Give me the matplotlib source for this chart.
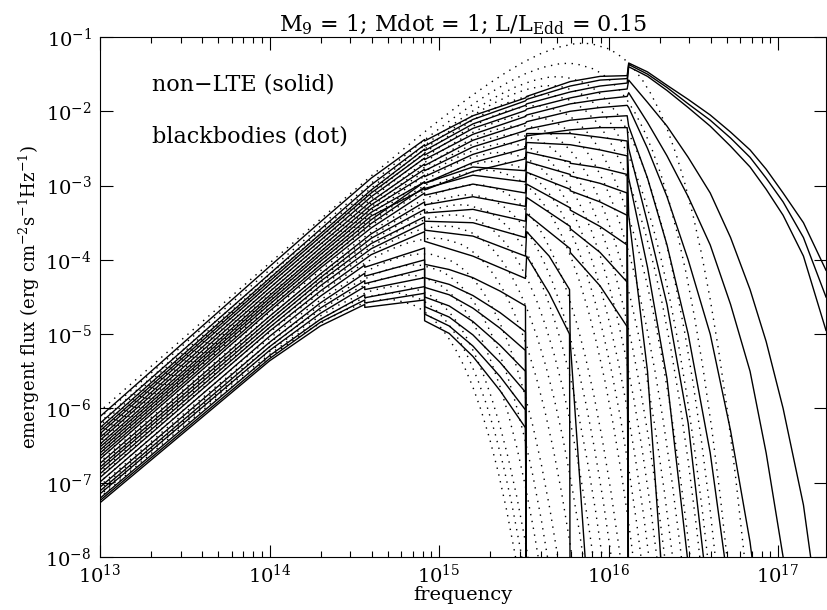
import numpy as np
import matplotlib
matplotlib.use("Agg")
import matplotlib.pyplot as plt
from matplotlib.ticker import FixedLocator, NullLocator, LogFormatterMathtext

# blackbody shape, relative to its peak (dex)
bb_shape_dlognu = [-2.95, -2.45, -1.95, -1.45, -1.25, -1.05, -0.95, -0.85, -0.75, -0.65,
                   -0.55, -0.45, -0.35, -0.25, -0.15, -0.05, 0.0, 0.05, 0.15, 0.20,
                   0.25, 0.30, 0.35, 0.40, 0.45, 0.50, 0.55, 0.60, 0.65, 0.70,
                   0.75, 0.80, 0.85, 0.90, 0.95, 1.00, 1.05]
bb_shape_dlogflux = [-5.153, -4.155, -3.160, -2.175, -1.788, -1.408, -1.223, -1.042, -0.866, -0.697,
                     -0.537, -0.388, -0.254, -0.141, -0.056, -0.007, 0.0, -0.007, -0.074, -0.138,
                     -0.227, -0.344, -0.492, -0.677, -0.902, -1.173, -1.496, -1.876, -2.320, -2.837,
                     -3.436, -4.126, -4.918, -5.825, -6.862, -8.043, -9.387]

# peak of each annulus blackbody (dotted curves), log10 nu and log10 flux
bb_peak_lognu = [14.699, 14.729, 14.759, 14.809, 14.854, 14.904, 14.974, 15.029, 15.079, 15.124,
                 15.169, 15.214, 15.279, 15.319, 15.359, 15.399, 15.439, 15.479, 15.524, 15.569,
                 15.619, 15.659, 15.699, 15.759, 15.849]
bb_peak_logflux = [-4.534, -4.444, -4.354, -4.204, -4.069, -3.919, -3.709, -3.544, -3.394, -3.259,
                   -3.124, -2.989, -2.794, -2.674, -2.554, -2.434, -2.314, -2.194, -2.059, -1.924,
                   -1.774, -1.654, -1.534, -1.354, -1.084]

# non-LTE spectra (solid), log10 values
# cool annuli: cut off at the Lyman edge
cool_lognu = [13.0, 14.0, 14.3, 14.562, 14.562, 14.915, 14.915, 15.06, 15.2, 15.36, 15.51, 15.517]
cool_logflux = [
    [-7.27, -5.36, -4.89, -4.60, -4.64, -4.54, -4.82, -4.99, -5.30, -5.76, -6.26, -9.5],
    [-7.24, -5.33, -4.84, -4.54, -4.58, -4.45, -4.73, -4.89, -5.16, -5.57, -6.02, -9.5],
    [-7.21, -5.29, -4.80, -4.47, -4.51, -4.36, -4.63, -4.77, -5.01, -5.38, -5.78, -9.5],
    [-7.15, -5.22, -4.72, -4.36, -4.40, -4.24, -4.50, -4.62, -4.83, -5.15, -5.50, -9.5],
    [-7.11, -5.17, -4.65, -4.28, -4.32, -4.12, -4.37, -4.47, -4.65, -4.92, -5.22, -9.5],
    [-7.06, -5.11, -4.58, -4.18, -4.22, -4.00, -4.24, -4.33, -4.48, -4.71, -4.97, -9.5],
    [-6.99, -5.03, -4.49, -4.07, -4.10, -3.84, -4.06, -4.13, -4.24, -4.42, -4.62, -9.5],
]

# warm annuli: cut off at the He I edge
warm_lognu = [13.0, 14.0, 14.3, 14.6, 14.915, 14.915, 15.2, 15.51, 15.517, 15.65, 15.77, 15.774, 15.88]
warm_logflux = [
    [-6.93, -4.96, -4.42, -3.93, -3.62, -3.75, -3.95, -4.25, -3.95, -4.45, -5.00, -9.5, -9.5],
    [-6.88, -4.91, -4.35, -3.85, -3.50, -3.60, -3.68, -3.95, -3.62, -3.95, -4.40, -5.10, -8.6],
]

# hot annuli: cut off at the He II edge
hot_lognu = [13.0, 14.0, 14.3, 14.6, 14.915, 14.915, 15.2, 15.51, 15.517, 15.774, 15.774, 15.95, 16.11, 16.119]
hot_logflux = [
    [-6.83, -4.86, -4.29, -3.78, -3.42, -3.48, -3.50, -3.70, -3.38, -3.85, -3.90, -4.35, -4.90, -9.5],
    [-6.79, -4.81, -4.24, -3.71, -3.32, -3.37, -3.32, -3.48, -3.16, -3.55, -3.58, -3.90, -4.30, -9.5],
    [-6.74, -4.76, -4.19, -3.65, -3.22, -3.26, -3.15, -3.28, -2.98, -3.30, -3.33, -3.55, -3.80, -9.5],
    [-6.68, -4.69, -4.11, -3.57, -3.10, -3.13, -2.98, -3.10, -2.82, -3.05, -3.07, -3.22, -3.40, -9.5],
    [-6.64, -4.65, -4.07, -3.51, -3.02, -3.04, -2.86, -2.95, -2.68, -2.85, -2.87, -2.97, -3.10, -9.5],
    [-6.60, -4.60, -4.02, -3.46, -2.95, -2.97, -2.75, -2.80, -2.55, -2.68, -2.70, -2.76, -2.85, -9.5],
]

# hottest annuli: emission past the He II edge
hottest_lognu = [13.0, 14.0, 14.3, 14.6, 14.915, 14.915, 15.2, 15.51, 15.517, 15.774, 15.95,
                 16.11, 16.119, 16.23, 16.345, 16.47, 16.6, 16.72, 16.835, 16.93, 17.03, 17.15, 17.283]
hottest_logflux = [
    [-6.56, -4.56, -3.98, -3.41, -3.04, -3.06, -2.81, -2.64, -2.42, -2.45, -2.52, -2.60, -3.40,
     -5.5, -9.2, -9.5, -9.5, -9.5, -9.5, -9.5, -9.5, -9.5, -9.5],
    [-6.52, -4.52, -3.93, -3.36, -2.95, -2.97, -2.69, -2.50, -2.30, -2.30, -2.35, -2.40, -2.90,
     -4.1, -5.6, -8.1, -9.5, -9.5, -9.5, -9.5, -9.5, -9.5, -9.5],
    [-6.48, -4.48, -3.89, -3.31, -2.86, -2.88, -2.58, -2.37, -2.33, -2.25, -2.22, -2.22, -2.50,
     -3.5, -4.6, -6.2, -8.8, -9.5, -9.5, -9.5, -9.5, -9.5, -9.5],
    [-6.43, -4.43, -3.84, -3.26, -2.78, -2.80, -2.48, -2.26, -2.24, -2.12, -2.08, -2.06, -2.20,
     -2.9, -3.8, -5.0, -6.6, -8.6, -9.5, -9.5, -9.5, -9.5, -9.5],
    [-6.39, -4.38, -3.79, -3.21, -2.71, -2.73, -2.39, -2.16, -2.14, -2.00, -1.95, -1.92, -1.95,
     -2.5, -3.15, -4.0, -5.0, -6.3, -7.8, -9.5, -9.5, -9.5, -9.5],
    [-6.34, -4.33, -3.74, -3.15, -2.63, -2.65, -2.31, -2.07, -2.05, -1.90, -1.84, -1.80, -1.75,
     -2.15, -2.6, -3.15, -3.8, -4.6, -5.5, -6.6, -8.0, -9.5, -9.5],
    [-6.30, -4.29, -3.69, -3.10, -2.57, -2.59, -2.23, -1.99, -1.97, -1.82, -1.74, -1.70, -1.58,
     -1.88, -2.2, -2.62, -3.1, -3.7, -4.4, -5.1, -6.0, -7.3, -9.5],
    [-6.26, -4.25, -3.65, -3.06, -2.51, -2.53, -2.17, -1.92, -1.90, -1.74, -1.66, -1.62, -1.40,
     -1.53, -1.72, -1.95, -2.20, -2.47, -2.75, -3.05, -3.40, -3.95, -4.95],
    [-6.20, -4.19, -3.59, -2.99, -2.45, -2.47, -2.11, -1.86, -1.84, -1.66, -1.58, -1.56, -1.37,
     -1.50, -1.68, -1.90, -2.12, -2.36, -2.62, -2.90, -3.22, -3.70, -4.50],
    [-6.11, -4.09, -3.49, -2.90, -2.38, -2.40, -2.06, -1.82, -1.80, -1.60, -1.53, -1.52, -1.35,
     -1.47, -1.65, -1.84, -2.05, -2.28, -2.52, -2.78, -3.10, -3.50, -4.14],
]

x_decades = [1e13, 1e14, 1e15, 1e16, 1e17]
y_decades = [1e-8, 1e-7, 1e-6, 1e-5, 1e-4, 1e-3, 1e-2, 1e-1]

plt.rcParams['font.family'] = ['DejaVu Serif']
plt.rcParams['mathtext.fontset'] = 'dejavuserif'

fig = plt.figure(figsize=(8.27, 6.10), dpi=100)
ax = fig.add_axes([100 / 827, 53 / 610, 726 / 827, 520 / 610])

dot_style = dict(color='black', lw=1.0, ls=(0, (1, 4)))
for p_nu, p_f in zip(bb_peak_lognu, bb_peak_logflux):
    nu = 10 ** (p_nu + np.array(bb_shape_dlognu))
    fl = 10 ** (p_f + np.array(bb_shape_dlogflux))
    ax.plot(nu, fl, **dot_style)

groups = [(cool_lognu, cool_logflux), (warm_lognu, warm_logflux),
          (hot_lognu, hot_logflux), (hottest_lognu, hottest_logflux)]
for lognu, rows in groups:
    for row in rows:
        ax.plot(10 ** np.array(lognu), 10 ** np.array(row), color='black', lw=1.0)

ax.set_xscale('log')
ax.set_yscale('log')
ax.set_xlim(1e13, 10 ** 17.283)
ax.set_ylim(1e-8, 1e-1)

x_minor = [m * d for d in x_decades for m in range(2, 10) if m * d < 10 ** 17.283]
ax.xaxis.set_major_locator(FixedLocator(x_decades))
ax.xaxis.set_minor_locator(FixedLocator(x_minor))
ax.yaxis.set_major_locator(FixedLocator(y_decades))
ax.yaxis.set_minor_locator(NullLocator())
ax.xaxis.set_major_formatter(LogFormatterMathtext())
ax.yaxis.set_major_formatter(LogFormatterMathtext())
ax.tick_params(which='both', direction='in', top=True, right=True, labelsize=14)
ax.tick_params(which='major', length=9, width=0.8)
ax.tick_params(which='minor', length=4, width=0.8)
ax.tick_params(axis='x', pad=5)
ax.tick_params(axis='y', pad=6)

ax.set_xlabel('frequency', fontsize=14, labelpad=-1)
ax.set_ylabel(r'emergent flux (erg cm$^{-2}$s$^{-1}$Hz$^{-1}$)', fontsize=13, labelpad=2)
ax.set_title(r'M$_9$ = 1; Mdot = 1; L/L$_{\rm Edd}$ = 0.15', fontsize=16, pad=4)

ax.text(0.0716, 0.898, 'non\u2212LTE (solid)', transform=ax.transAxes, fontsize=16, va='baseline')
ax.text(0.0716, 0.798, 'blackbodies (dot)', transform=ax.transAxes, fontsize=16, va='baseline')

fig.savefig('out.png', dpi=100)
